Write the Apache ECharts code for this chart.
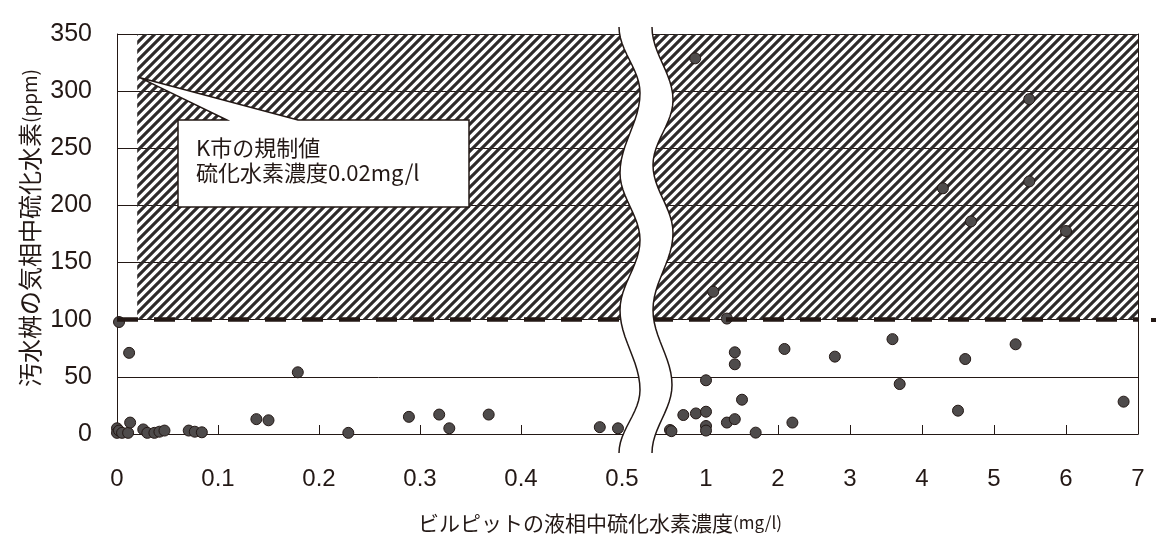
<!DOCTYPE html>
<html>
<head>
<meta charset="utf-8">
<script src="https://cdn.jsdelivr.net/npm/echarts@6/dist/echarts.min.js"></script>
<style>
  html, body { margin: 0; background: #ffffff; }
  #main { width: 1160px; height: 540px; }
</style>
</head>
<body>
<div id="main"></div>
<script>
// 左側 (0〜0.5 mg/l)
var leftX = [0.000, 0.000, 0.002, 0.005, 0.011, 0.013, 0.012, 0.002, 0.026, 0.030, 0.037, 0.042, 0.047,
             0.071, 0.077, 0.084, 0.138, 0.150, 0.179, 0.229, 0.289, 0.319, 0.329, 0.368, 0.478, 0.496];
var leftY = [5, 1, 3, 1, 1, 10, 71, 98, 4, 1, 1, 2, 3,
             3, 2, 1.5, 13, 12, 54, 1, 15, 17, 5, 17, 6, 5];
// 右側 (0.5〜7 mg/l)
var rightX = [0.50, 0.52, 0.685, 0.86, 1.0, 1.0, 1.0, 1.0, 1.29, 1.40, 1.40, 1.40, 1.50, 1.69, 1.29,
              2.09, 2.20, 2.79, 3.59, 3.69, 4.50, 4.60, 5.30, 6.80,
              0.85, 1.10, 4.29, 4.68, 5.49, 5.49, 6.00];
var rightY = [3.5, 2.5, 16.6, 18, 19.5, 7, 3, 47, 10, 13, 61, 71.5, 30, 1.2, 101,
              74.4, 10, 67.7, 83, 43.7, 20.4, 65.6, 78.5, 28.3,
              328.7, 124.5, 215, 186, 293, 221, 177.6];

var yTicks = [0, 50, 100, 150, 200, 250, 300, 350];
var leftXTicks = [0, 0.1, 0.2, 0.3, 0.4, 0.5];
var rightXTicks = [1, 2, 3, 4, 5, 6, 7];

var limitY = 100;    // 気相の基準
var limitX = 0.02;   // K市の規制値

var ink = '#231815';
var numFont = '"Liberation Sans", Arial, sans-serif';
var jpFont = '"Noto Sans CJK JP", sans-serif';

var leftMax = 0.5178;
var rightMin = 0.25, rightMax = 7;

function zip(xs, ys) {
    return xs.map(function (x, i) { return [x, ys[i]]; });
}

// 斜線ハッチ
function makeHatch() {
    var c = document.createElement('canvas');
    c.width = 9; c.height = 9;
    var g = c.getContext('2d');
    g.strokeStyle = '#2e2a2a';
    g.lineWidth = 3.1;
    g.beginPath();
    g.moveTo(-1, 10); g.lineTo(10, -1);
    g.moveTo(-2, 2); g.lineTo(2, -2);
    g.moveTo(7, 11); g.lineTo(11, 7);
    g.stroke();
    return c;
}

// 省略線の波形
function wave(ext) {
    var pts = [];
    for (var i = 0; i < ext.length - 1; i++) {
        var a = ext[i], b = ext[i + 1];
        for (var k = 0; k < 12; k++) {
            var t = k / 12, s = (1 - Math.cos(Math.PI * t)) / 2;
            pts.push([a[0] + (b[0] - a[0]) * s, a[1] + (b[1] - a[1]) * t]);
        }
    }
    pts.push(ext[ext.length - 1]);
    return pts;
}

var hatchFill = { image: makeHatch(), repeat: 'repeat' };
var pointStyle = { color: '#4e4b4b', borderColor: ink, borderWidth: 1, opacity: 1 };

function limitLine() {
    return {
        silent: true, symbol: 'none', label: { show: false },
        lineStyle: { color: ink, width: 4.5, type: [21, 16], opacity: 1 },
        data: [{ yAxis: limitY }]
    };
}

var chart = echarts.init(document.getElementById('main'));

var option = {
    animation: false,
    grid: [
        { left: 117, top: 34, width: 523, height: 400 },
        { left: 652, top: 34, width: 486, height: 400 }
    ],
    xAxis: [
        {
            gridIndex: 0, type: 'value', min: 0, max: leftMax,
            axisLine: { lineStyle: { color: ink, width: 1.2 } },
            axisTick: { inside: true, length: 9, customValues: [0.1, 0.2, 0.3, 0.4], lineStyle: { color: ink } },
            axisLabel: { customValues: leftXTicks, margin: 33, fontSize: 24, color: ink, fontFamily: numFont },
            splitLine: { show: false }
        },
        {
            gridIndex: 1, type: 'value', min: rightMin, max: rightMax,
            axisLine: { lineStyle: { color: ink, width: 1.2 } },
            axisTick: { inside: true, length: 9, customValues: rightXTicks, lineStyle: { color: ink } },
            axisLabel: { customValues: rightXTicks, margin: 33, fontSize: 24, color: ink, fontFamily: numFont },
            splitLine: { show: false }
        }
    ],
    yAxis: [
        {
            gridIndex: 0, type: 'value', min: yTicks[0], max: yTicks[yTicks.length - 1], interval: 50,
            axisLine: { show: true, lineStyle: { color: ink, width: 1 } },
            axisTick: { show: false },
            axisLabel: { margin: 25, fontSize: 25, color: ink, fontFamily: numFont },
            splitLine: { lineStyle: { color: ink, width: 1 } }
        },
        {
            gridIndex: 1, type: 'value', position: 'right', min: yTicks[0], max: yTicks[yTicks.length - 1], interval: 50,
            axisLine: { show: true, lineStyle: { color: ink, width: 1 } },
            axisTick: { show: false },
            axisLabel: { show: false },
            splitLine: { lineStyle: { color: ink, width: 1 } }
        }
    ],
    series: [
        {
            type: 'scatter', xAxisIndex: 0, yAxisIndex: 0,
            data: zip(leftX, leftY), symbolSize: 11, itemStyle: pointStyle,
            markArea: {
                silent: true,
                itemStyle: { color: hatchFill, opacity: 1, borderWidth: 0 },
                data: [[{ coord: [limitX, limitY] }, { coord: [leftMax, 350] }]]
            },
            markLine: limitLine()
        },
        {
            type: 'scatter', xAxisIndex: 1, yAxisIndex: 1,
            data: zip(rightX, rightY), symbolSize: 11, itemStyle: pointStyle,
            markArea: {
                silent: true,
                itemStyle: { color: hatchFill, opacity: 1, borderWidth: 0 },
                data: [[{ coord: [rightMin, limitY] }, { coord: [rightMax, 350] }]]
            },
            markLine: limitLine()
        }
    ]
};
chart.setOption(option);

// 注記・省略線
var top = chart.convertToPixel({ xAxisIndex: 0, yAxisIndex: 0 }, [limitX, 368]);
var bot = chart.convertToPixel({ xAxisIndex: 0, yAxisIndex: 0 }, [limitX, -5]);
var tip = chart.convertToPixel({ xAxisIndex: 0, yAxisIndex: 0 }, [limitX, 312]);

var leftWave = wave([[619, 27], [640, 93], [620, 173], [640, 240], [620, 310], [640, 390], [619, 453]]);
var rightWave = wave([[652, 27], [673, 100], [653, 165], [673, 233], [653, 310], [672, 385], [652, 453]]);

chart.setOption({
    graphic: [
        {
            type: 'polygon', z: 100, silent: true,
            shape: { points: leftWave.concat(rightWave.slice().reverse()) },
            style: { fill: '#ffffff', stroke: null }
        },
        { type: 'polyline', z: 101, silent: true, shape: { points: leftWave }, style: { stroke: ink, lineWidth: 1.5, fill: null } },
        { type: 'polyline', z: 101, silent: true, shape: { points: rightWave }, style: { stroke: ink, lineWidth: 1.5, fill: null } },
        {
            type: 'line', z: 102, silent: true,
            shape: { x1: top[0], y1: top[1], x2: bot[0], y2: bot[1] },
            style: { stroke: ink, lineWidth: 4.5 }
        },
        {
            type: 'polygon', z: 103, silent: true,
            shape: { points: [[178, 120], [227, 120], [tip[0] + 2, tip[1]], [298, 120], [469, 120], [469, 207], [178, 207]] },
            style: { fill: '#ffffff', stroke: ink, lineWidth: 1.5 }
        },
        {
            type: 'text', z: 104, silent: true, x: 196, y: 160,
            style: {
                text: 'K市の規制値\n硫化水素濃度0.02mg/l',
                font: '22px ' + jpFont, fill: ink, lineHeight: 25,
                verticalAlign: 'middle'
            }
        },
        { type: 'rect', z: 104, silent: true, shape: { x: 1151, y: 318, width: 5, height: 4 }, style: { fill: ink } },
        {
            type: 'text', z: 104, silent: true, x: 30, y: 228, rotation: Math.PI / 2,
            style: {
                text: '{a|汚水桝の気相中硫化水素}{b|(ppm)}',
                align: 'center', verticalAlign: 'middle',
                rich: {
                    a: { fontSize: 24, fontFamily: jpFont, fill: ink, color: ink },
                    b: { fontSize: 19, fontFamily: jpFont, fill: ink, color: ink }
                }
            }
        },
        {
            type: 'text', z: 104, silent: true, x: 600, y: 523,
            style: {
                text: '{a|ビルピットの液相中硫化水素濃度}{b|(mg/l)}',
                align: 'center', verticalAlign: 'middle',
                rich: {
                    a: { fontSize: 21, fontFamily: jpFont, fill: ink, color: ink },
                    b: { fontSize: 17, fontFamily: jpFont, fill: ink, color: ink }
                }
            }
        }
    ]
});
</script>
</body>
</html>
